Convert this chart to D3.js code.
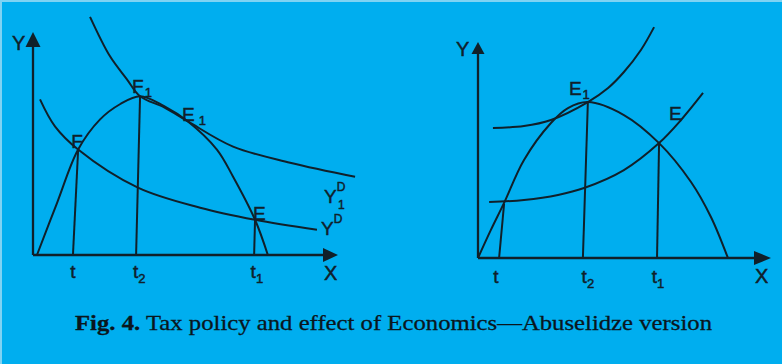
<!DOCTYPE html>
<html>
<head>
<meta charset="utf-8">
<script src="https://cdn.jsdelivr.net/npm/d3@7"></script>
<style>
  html, body { margin: 0; padding: 0; background: #00aeef; }
  svg { display: block; }
</style>
</head>
<body>
<svg id="fig" width="782" height="364"></svg>
<script>
// ---- Left panel: Laffer curve against two demand curves (units: % of axis length) ----
const leftLaffer = [[1.3,0],[7.9,23.4],[14.8,47.3],[22.0,60.8],[28.5,67.6],[35.1,71.2],[43.0,66.8],[50.8,59.9],[60.3,47.3],[65.6,35.1],[72.8,15.8],[77.0,0]];
const leftY1D    = [[18.7,106.8],[25.2,89.2],[30.8,78.8],[35.1,71.2],[43.0,66.2],[50.8,59.9],[65.6,48.6],[84.3,41.4],[105.6,35.1]];
const leftYD     = [[2.3,69.8],[7.2,57.7],[14.8,47.3],[34.4,30.2],[54.8,21.2],[72.8,15.8],[93.1,11.3]];
const leftDrops  = [
  { label: "t",  sub: "",  top: [14.8,47.3], base: [13.1,0] },
  { label: "t",  sub: "2", top: [35.1,71.2], base: [33.8,0] },
  { label: "t",  sub: "1", top: [72.8,15.8], base: [72.5,0] }
];
const leftTickX  = [13.1, 34.8, 73.4];

// ---- Right panel: Laffer curve against two supply curves ----
const rightLaffer = [[0,0],[4.4,13.0],[8.9,25.5],[15.7,45.4],[24.9,62.5],[30.7,69.4],[37.5,72.2],[49.8,66.2],[61.8,53.2],[72.7,35.2],[79.5,19.0],[85.3,0]];
const rightUpper  = [[5.1,60.2],[15.7,61.1],[24.9,63.9],[37.5,72.2],[44.4,78.7],[49.8,86.1],[55.6,96.3],[60.1,106.9]];
const rightLower  = [[3.8,25.9],[15.7,26.9],[27.3,29.2],[36.2,32.4],[49.8,40.7],[61.8,53.2],[69.3,63.9],[76.8,76.4]];
const rightDrops  = [
  { label: "t",  sub: "",  top: [8.9,25.0],  base: [7.2,0] },
  { label: "t",  sub: "2", top: [37.5,72.2], base: [35.8,0] },
  { label: "t",  sub: "1", top: [61.8,53.2], base: [61.1,0] }
];
const rightTickX  = [6.1, 37.5, 61.4];

const caption = ["Fig. 4.", " Tax policy and effect of Economics\u2014Abuselidze version"];

const INK = "#10202a";
const SANS = "Liberation Sans, Arial, sans-serif";
const svg = d3.select("#fig");

// thin pale frame along the top and left edges
svg.append("rect").attr("x", 0).attr("y", 0).attr("width", 782).attr("height", 2).attr("fill", "#7fd3f3");
svg.append("rect").attr("x", 0).attr("y", 0).attr("width", 2).attr("height", 364).attr("fill", "#7fd3f3");

const lineGen = (x, y) => d3.line().x(d => x(d[0])).y(d => y(d[1])).curve(d3.curveCatmullRom.alpha(0.5));

// sans label with a light outline so the glyphs read a little heavier
function label(g, px, py, size) {
  return g.append("text").attr("x", px).attr("y", py)
    .attr("fill", INK).attr("stroke", INK).attr("stroke-width", 0.45)
    .attr("font-family", SANS).attr("font-size", size || 19);
}

function panel(cfg) {
  const x = d3.scaleLinear().domain([0, 100]).range([cfg.ox, cfg.xTip]);
  const y = d3.scaleLinear().domain([0, 100]).range([cfg.oy, cfg.yTip]);
  const g = svg.append("g");

  // axes with arrowheads
  g.append("line").attr("x1", x(0)).attr("y1", y(0)).attr("x2", x(0)).attr("y2", y(100) + 6)
    .attr("stroke", INK).attr("stroke-width", 2.3);
  g.append("line").attr("x1", x(0)).attr("y1", y(0)).attr("x2", x(100) - 6).attr("y2", y(0))
    .attr("stroke", INK).attr("stroke-width", 2.3);
  const ay = cfg.arrowY, ax = cfg.arrowX;
  g.append("path").attr("fill", INK)
    .attr("d", `M${x(0)},${y(100)} L${x(0) - ay[1]},${y(100) + ay[0]} L${x(0) + ay[1]},${y(100) + ay[0]} Z`);
  g.append("path").attr("fill", INK)
    .attr("d", `M${x(100)},${y(0)} L${x(100) - ax[0]},${y(0) - ax[1]} L${x(100) - ax[0]},${y(0) + ax[1]} Z`);

  // curves
  cfg.curves.forEach(c => {
    g.append("path").datum(c).attr("d", lineGen(x, y))
      .attr("fill", "none").attr("stroke", INK).attr("stroke-width", 2);
  });

  // drop lines to the tax-rate axis and their labels
  cfg.drops.forEach((d, i) => {
    g.append("line")
      .attr("x1", x(d.top[0])).attr("y1", y(d.top[1]))
      .attr("x2", x(d.base[0])).attr("y2", y(d.base[1]))
      .attr("stroke", INK).attr("stroke-width", 2);
    const t = label(g, x(cfg.tickX[i]), y(0) + cfg.tickDy, 19).attr("text-anchor", "middle");
    t.append("tspan").text(d.label);
    if (d.sub) t.append("tspan").attr("dy", 5).attr("font-size", 13).text(d.sub);
  });

  // axis letters
  label(g, cfg.yLabel[0], cfg.yLabel[1], 20).text("Y");
  label(g, cfg.xLabel[0], cfg.xLabel[1], 20).text("X");

  // point labels, with optional subscripts
  cfg.points.forEach(p => {
    const t = label(g, x(p.at[0]) + p.dx, y(p.at[1]) + p.dy, p.size || 19);
    t.append("tspan").text(p.main);
    if (p.sub) t.append("tspan").attr("dx", p.subDx || 1).attr("dy", 4).attr("font-size", 13).text(p.sub);
  });
  (cfg.extra || []).forEach(f => f(g, x, y));
  return { x, y };
}

// left panel
panel({
  ox: 33, oy: 255, xTip: 338, yTip: 32,
  arrowY: [15, 7.5], arrowX: [15, 7],
  curves: [leftLaffer, leftY1D, leftYD],
  drops: leftDrops, tickX: leftTickX, tickDy: 23,
  yLabel: [12, 50], xLabel: [324, 280],
  points: [
    { main: "F",  at: leftYD[2],     dx: -7, dy: -2 },
    { main: "F",  sub: "1", at: leftLaffer[5], dx: -8, dy: -3 },
    { main: "E",  sub: "1", at: leftLaffer[7], dx: -6, dy: 0, subDx: 4 },
    { main: "E",  at: leftYD[5],     dx: -2, dy: 0 }
  ],
  extra: [
    (g, x, y) => {
      // demand-curve tags Y1D and YD
      const tag = (px, py, sub) => {
        const t = label(g, px, py, 19);
        t.append("tspan").text("Y");
        t.append("tspan").attr("dy", -12).attr("font-size", 12).text("D");
        if (sub) label(g, px + 14, py + 6, 12).text(sub);
      };
      tag(324, 203, "1");
      tag(321, 235, "");
    }
  ]
});

// right panel
panel({
  ox: 478, oy: 258, xTip: 771, yTip: 42,
  arrowY: [12, 6.5], arrowX: [17, 7],
  curves: [rightLaffer, rightUpper, rightLower],
  drops: rightDrops, tickX: rightTickX, tickDy: 25,
  yLabel: [456, 56], xLabel: [755, 283],
  points: [
    { main: "E", sub: "1", at: rightLaffer[6], dx: -19, dy: -7 },
    { main: "E", at: rightLower[5], dx: 10, dy: -23 }
  ]
});

// figure caption
const cap = svg.append("text").attr("x", 75).attr("y", 330).attr("fill", "#0a161d")
  .attr("stroke", "#0a161d").attr("stroke-width", 0.3)
  .attr("font-family", "Liberation Serif, Times New Roman, serif").attr("font-size", 22)
  .attr("textLength", 637).attr("lengthAdjust", "spacingAndGlyphs");
cap.append("tspan").attr("font-weight", "bold").text(caption[0]);
cap.append("tspan").text(caption[1]);
</script>
</body>
</html>
